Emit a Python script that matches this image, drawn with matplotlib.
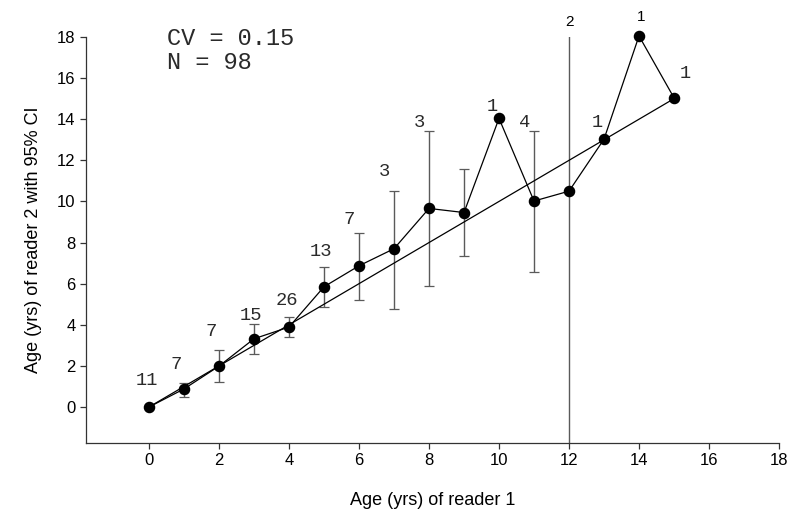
import numpy as np
import matplotlib.pyplot as plt

# reader 1 age classes and mean age given by reader 2
age_r1 = [0, 1, 2, 3, 4, 5, 6, 7, 8, 9, 10, 11, 12, 13, 14, 15]
age_r2 = [0, 0.88, 1.99, 3.32, 3.89, 5.85, 6.87, 7.70, 9.66, 9.46, 14.04, 10.02, 10.50, 13.03, 18.05, 15.04]
ci_low = [np.nan, 0.50, 1.23, 2.58, 3.39, 4.88, 5.21, 4.78, 5.87, 7.33, np.nan, 6.56, -4.0, np.nan, np.nan, np.nan]
ci_high = [np.nan, 1.18, 2.77, 4.05, 4.36, 6.79, 8.48, 10.52, 13.44, 11.56, np.nan, 13.44, 24.0, np.nan, np.nan, np.nan]
n_fish = ['11', '7', '7', '15', '26', '13', '7', '3', '3', '', '1', '4', '2', '1', '1', '1']

# where the sample sizes are written
label_x = [-0.07, 0.77, 1.77, 2.91, 3.93, 4.91, 5.73, 6.73, 7.74, 9.0, 9.81, 10.74, 12.0, 12.82, 14.06, 15.32]
label_y = [1.31, 2.09, 3.66, 4.44, 5.20, 7.55, 9.14, 11.48, 13.83, 0, 14.64, 13.83, 18.74, 13.83, 18.95, 16.2]
# labels sitting above the plot area use a sans font
top_labels = [12, 14]

cv = 0.15
n_total = 98

plt.rcParams['font.family'] = ['Liberation Sans', 'DejaVu Sans']

fig = plt.figure(figsize=(7.92, 5.18), dpi=100)
ax = fig.add_axes([0.1086, 0.1448, 0.8750, 0.7838])

x = np.array(age_r1, dtype=float)
y = np.array(age_r2)
lo = np.array(ci_low)
hi = np.array(ci_high)
has_ci = ~np.isnan(lo)

# 95% CI
ax.errorbar(x[has_ci], y[has_ci], yerr=[y[has_ci] - lo[has_ci], hi[has_ci] - y[has_ci]],
            fmt='none', ecolor='#5a5a5a', elinewidth=1.0, capsize=3.3, capthick=0.9, zorder=1)

# 1:1 line
ax.plot([0, 15], [0, 15], color='black', lw=0.9, zorder=2)

# mean ages
ax.plot(x, y, color='black', lw=0.9, marker='o', markersize=7.3, clip_on=False, zorder=3)

for i, txt in enumerate(n_fish):
    if txt == '':
        continue
    if i in top_labels:
        ax.text(label_x[i], label_y[i], txt, ha='center', va='center', fontsize=11, clip_on=False)
    else:
        ax.text(label_x[i], label_y[i], txt, ha='center', va='center', fontsize=13.5,
                family='Liberation Mono', color='#2a2a2a', clip_on=False)

ax.text(0.5, 17.34, f'CV = {cv:.2f}\nN = {n_total}', ha='left', va='center',
        fontsize=17, family='Liberation Mono', color='#2a2a2a', linespacing=1.05)

ax.set_xlim(-1.8, 18)
ax.set_ylim(-1.75, 18)
ax.set_xticks(range(0, 19, 2))
ax.set_yticks(range(0, 19, 2))
ax.spines['top'].set_visible(False)
ax.spines['right'].set_visible(False)
for s in ['left', 'bottom']:
    ax.spines[s].set_linewidth(0.9)
    ax.spines[s].set_color('#333333')
ax.tick_params(direction='out', length=4, width=0.9, colors='#333333', labelsize=12, labelcolor='black')

ax.set_xlabel('Age (yrs) of reader 1', fontsize=13, labelpad=17)
ax.set_ylabel('Age (yrs) of reader 2 with 95% CI', fontsize=13, labelpad=11)

fig.savefig('out.png', dpi=100)
